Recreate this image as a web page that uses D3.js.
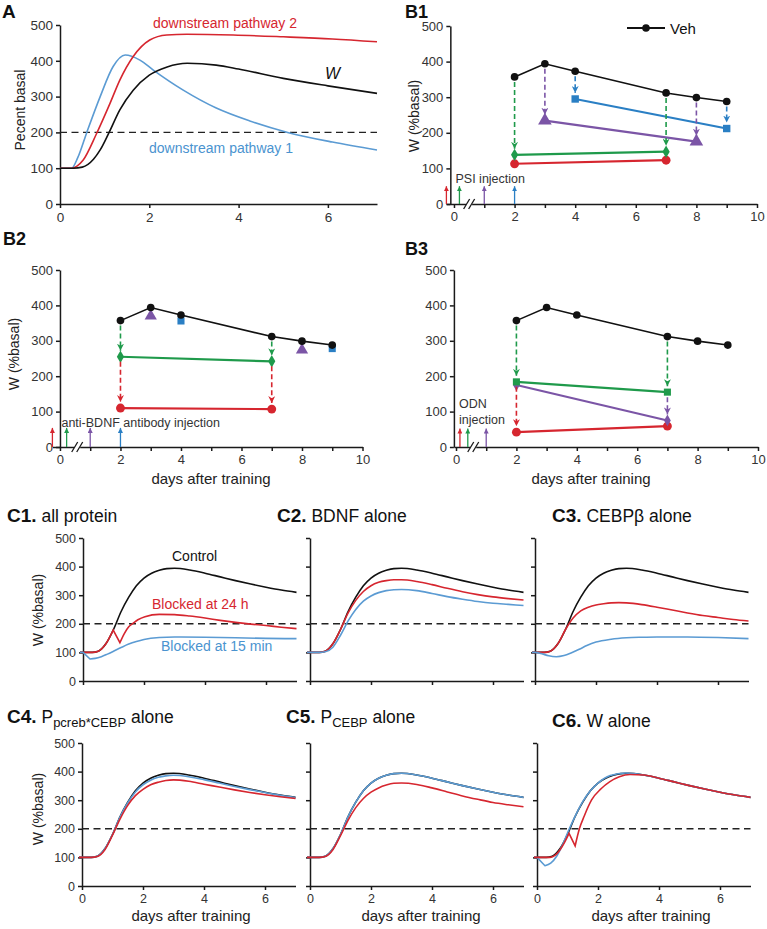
<!DOCTYPE html>
<html><head><meta charset="utf-8">
<script src="https://cdn.jsdelivr.net/npm/d3@7"></script>
<style>body{margin:0;background:#fff} svg{font-family:"Liberation Sans",Arial,sans-serif}</style>
</head><body><svg id="c" width="767" height="929"></svg>
<script>
// ---------------- DATA ----------------
// Panel A
const aWx = [0,0.3,0.5,0.75,0.9,1.1,1.34,1.64,2.0,2.4,2.85,3.5,4.0,5.0,6.0,7.1];
const aW  = [100,100,103,125,151,200,263,318,360,383,393,388,377,351,330,309];
const aP2x = [0,0.26,0.38,0.52,0.82,1.12,1.34,1.64,2.01,2.39,2.84,3.88,5.0,6.1,7.1];
const aP2  = [100,100,106,123,197,281,346,412,458,472,474,472,467,461,453];
const aP1x = [0,0.26,0.4,0.6,0.9,1.19,1.46,1.79,2.09,2.76,3.5,4.25,5.1,6.1,7.1];
const aP1  = [100,100,130,200,300,384,416,402,374,318,268,232,200,173,151];

// Panels B (days after training, W %basal)
const vehDays = [2,3,4,7,8,9];
const vehW    = [357,394,373,312,299,288];
const b1SqDays = [4,9], b1Sq = [295,212];
const b1TriDays = [3,8], b1Tri = [234,175];
const b1DiaDays = [2,7], b1Dia = [138,147];
const b1CirDays = [2,7], b1Cir = [113,123];
const b2TriDays = [3,8], b2Tri = [370,274];
const b2SqDays = [4,9], b2Sq = [356,278];
const b2DiaDays = [2,7], b2Dia = [255,242];
const b2CirDays = [2,7], b2Cir = [110,107];
const b3SqDays = [2,7], b3Sq = [184,155];
const b3DiaDays = [2,7], b3Dia = [175,75];
const b3CirDays = [2,7], b3Cir = [42,59];
const b1Inject = [-0.25,0.18,1,2];
const b2Inject = [-0.25,0.22,1,2];
const b3Inject = [0.13,0.39,1];

// Panels C
const ctlX = [-0.1,0,0.3,0.5,0.75,1.0,1.25,1.5,1.75,2.0,2.25,2.5,2.75,3.0,3.5,4.0,4.5,5.0,5.5,6.0,6.5,7.0];
const ctlW = [100,100,100,104,130,180,243,293,333,360,377,387,393,394,388,377,364,351,339,328,318,310];
const c1RedX = [-0.1,0,0.3,0.5,0.75,0.99,1.21,1.35,1.5,1.62,1.8,2.03,2.5,3.0,3.5,4.0,4.5,5.0,5.5,6.0,6.5,7.0];
const c1Red  = [100,100,100,104,130,178,134,165,190,200,214,225,233,232,227,220,212,205,199,194,188,183];
const c1BlueX = [-0.1,0,0.23,0.4,0.6,0.8,1.0,1.25,1.5,1.75,2.0,2.5,3.0,4.0,5.0,6.0,7.0];
const c1Blue  = [100,100,77,79,85,94,104,117,129,138,145,152,154,153,151,149,148];
const c2Red  = [100,100,100,104,130,180,238,282,313,333,345,351,354,354,348,337,324,312,302,294,288,283];
const c2Blue = [100,100,100,102,118,160,210,250,279,297,309,316,319,320,316,306,295,286,278,272,268,264];
const c3Red  = [100,100,100,104,130,180,220,245,258,266,270,273,274,273,267,258,248,238,229,222,215,210];
const c3BlueX = [-0.1,0,0.2,0.45,0.7,0.95,1.2,1.45,1.7,2.0,2.5,3.0,3.5,4.0,5.0,6.0,7.0];
const c3Blue  = [100,100,96,88,85,89,99,111,124,136,146,151,153,154,154,152,148];
const c4Blue = [100,100,100,104,130,180,242,291,329,354,370,380,385,387,382,372,360,348,337,327,317,309];
const c4Red  = [100,100,100,103,127,178,235,282,316,338,354,363,369,371,366,356,346,336,327,319,312,306];
const c5Red  = [100,100,100,103,127,176,230,274,306,328,343,353,359,360,355,343,329,315,303,292,284,277];
const c6BlueX = [-0.1,0,0.26,0.45,0.65,0.86,1.06,1.3,1.5,1.75,2.0,2.4,2.9,3.5,4.0,4.5,5.0,5.5,6.0,6.5,7.0];
const c6Blue  = [100,100,71,80,105,149,200,255,295,333,360,386,395,388,377,364,351,339,328,318,310];
const c6RedX = [-0.1,0,0.43,0.6,0.75,0.9,1.05,1.25,1.39,1.55,1.79,2.1,2.39,2.7,3.05,3.5,4.0,4.5,5.0,5.5,6.0,6.5,7.0];
const c6Red  = [100,100,100,108,126,152,184,140,200,245,301,340,365,382,390,388,377,364,351,339,328,318,310];

const yTicks = [0,100,200,300,400,500];

// ---------------- STYLE ----------------
const RED="#d6262f", BLUE="#5b9bd3", BLK="#111", GREEN="#1f9a4b", PURPLE="#7b55a6", BBLUE="#2a7fc4";
const FONT='"Liberation Sans",Arial,sans-serif';
const svg = d3.select("#c");
const defs = svg.append("defs");
function mkMarker(id, color, w, h, notch){
  defs.append("marker").attr("id",id).attr("viewBox","0 0 10 10").attr("refX",10).attr("refY",5)
    .attr("markerWidth",w).attr("markerHeight",h).attr("orient","auto").attr("markerUnits","userSpaceOnUse")
    .append("path").attr("d", notch ? "M0,0 L10,5 L0,10 L3,5 Z" : "M0,0 L10,5 L0,10 Z").attr("fill",color);
}
const colors = {red:RED, green:GREEN, purple:PURPLE, blue:BBLUE};
Object.entries(colors).forEach(([k,c])=>{ mkMarker("d-"+k,c,7,7,true); mkMarker("i-"+k,c,5,5,false); });

function styleAxis(g, fs){
  g.attr("font-family",FONT).attr("font-size",fs);
  g.selectAll("path,line").attr("stroke","#1a1a1a").attr("stroke-width",1.5);
  g.selectAll("text").attr("fill","#333");
}
function zip(xs,ys){ return xs.map((x,i)=>[x,ys[i]]); }
function axes(p, o){
  const gy = svg.append("g").attr("transform",`translate(${p.x(o.yAt||0)},0)`)
    .call(d3.axisLeft(p.y).tickValues(yTicks).tickSize(4).tickSizeOuter(0).tickPadding(3)
      .tickFormat(o.yLab ? d3.format("d") : ""));
  styleAxis(gy, o.fs);
  const gx = svg.append("g").attr("transform",`translate(0,${p.y(0)})`)
    .call(d3.axisBottom(p.x).tickValues(o.xTicks).tickSize(4).tickSizeOuter(0).tickPadding(4)
      .tickFormat(o.xLab ? (o.xFmt || d3.format("d")) : ""));
  styleAxis(gx, o.fs);
}
// smooth curve through the points; sharp corners at the x values listed in kinks
function curve(p, xs, ys, color, w, kinks){
  const pts = zip(xs,ys);
  const line = d3.line().x(d=>p.x(d[0])).y(d=>p.y(d[1])).curve(d3.curveMonotoneX);
  const pieces = [];
  let cur = [];
  pts.forEach(pt=>{
    cur.push(pt);
    if(kinks && kinks.includes(pt[0])){ pieces.push(cur); cur=[pt]; }
  });
  if(cur.length>1) pieces.push(cur);
  const d = pieces.map(pc=>line(pc)).map((s,i)=> i===0 ? s : s.replace(/^M[^LC]*/, "L"+s.match(/^M([^LC]*)/)[1])).join("");
  svg.append("path").attr("d",d).attr("fill","none")
    .attr("stroke",color).attr("stroke-width",w||1.6).attr("stroke-linejoin","miter");
}
function dashed200(p, x0, x1){
  svg.append("line").attr("x1",p.x(x0)).attr("x2",p.x(x1)).attr("y1",p.y(200)).attr("y2",p.y(200))
    .attr("stroke","#222").attr("stroke-width",1.4).attr("stroke-dasharray","7,4.5");
}
function text(x,y,str,o){
  o=o||{};
  const t = svg.append("text").attr("x",x).attr("y",y).attr("font-family",FONT)
    .attr("font-size",o.fs||14).attr("fill",o.fill||"#222").text(str);
  if(o.anchor) t.attr("text-anchor",o.anchor);
  if(o.bold) t.attr("font-weight","bold");
  if(o.italic) t.attr("font-style","italic");
  return t;
}
function ylabel(x,y,str,fs){
  svg.append("text").attr("transform",`translate(${x},${y}) rotate(-90)`).attr("text-anchor","middle")
    .attr("font-family",FONT).attr("font-size",fs||14).attr("fill","#222").text(str);
}
function title(x,y,parts){
  const t = svg.append("text").attr("x",x).attr("y",y).attr("font-family",FONT).attr("fill","#111");
  parts.forEach(pp=>{
    const s=t.append("tspan").attr("font-size",pp.fs).text(pp.t);
    if(pp.bold) s.attr("font-weight","bold");
    if(pp.dy) s.attr("dy",pp.dy);
  });
}

// ---------------- PANEL A ----------------
const pA = {x:d3.scaleLinear().domain([0,7.1]).range([60,377]), y:d3.scaleLinear().domain([0,500]).range([204,25])};
axes(pA,{yLab:true,xLab:true,xTicks:[0,2,4,6],fs:13.5});
dashed200(pA,0,7.1);
curve(pA,aP1x,aP1,BLUE);
curve(pA,aP2x,aP2,RED);
curve(pA,aWx,aW,BLK);
text(2,18,"A",{fs:19,bold:true,fill:"#111"});
ylabel(25,110,"Pecent basal",14);
text(153,28,"downstream pathway 2",{fs:14,fill:RED});
text(149,153,"downstream pathway 1",{fs:14,fill:"#4a93cf"});
text(325,79,"W",{fs:16,italic:true,fill:"#111"});

// ---------------- PANELS B ----------------
function sym(p, days, vals, type, size, color){
  svg.append("g").selectAll("path").data(zip(days,vals)).join("path")
    .attr("transform",d=>`translate(${p.x(d[0])},${p.y(d[1])})`)
    .attr("d",d3.symbol().type(type).size(size)).attr("fill",color);
}
function segs(p, days, vals, color, w){
  const line = d3.line().x(d=>p.x(d[0])).y(d=>p.y(d[1]));
  svg.append("path").datum(zip(days,vals)).attr("d",line).attr("fill","none")
    .attr("stroke",color).attr("stroke-width",w||2.2);
}
function darrow(p, day, from, to, cname){
  svg.append("line").attr("x1",p.x(day)).attr("x2",p.x(day)).attr("y1",p.y(from)+5).attr("y2",p.y(to)-6)
    .attr("stroke",colors[cname]).attr("stroke-width",1.6).attr("stroke-dasharray","5,3")
    .attr("marker-end",`url(#d-${cname})`);
}
function inject(p, xs, names, top){
  xs.forEach((x,i)=>{
    svg.append("line").attr("x1",p.x(x)).attr("x2",p.x(x)).attr("y1",p.y(0)).attr("y2",p.y(top))
      .attr("stroke",colors[names[i]]).attr("stroke-width",1.3).attr("marker-end",`url(#i-${names[i]})`);
  });
}
function brk(p, x){
  const cx=p.x(x), cy=p.y(0);
  svg.append("rect").attr("x",cx-3).attr("y",cy-2).attr("width",6).attr("height",4).attr("fill","#fff");
  [-2.5,2.5].forEach(o=>svg.append("line").attr("x1",cx+o-3).attr("y1",cy+5).attr("x2",cx+o+3).attr("y2",cy-5)
    .attr("stroke","#1a1a1a").attr("stroke-width",1.3));
}
function veh(p){
  segs(p, vehDays, vehW, BLK, 1.6);
  sym(p, vehDays, vehW, d3.symbolCircle, 46, BLK);
}
const bXT = d3.range(0,11);
const bFmt = d=> d%2===0 ? d : "";

// B1
const pB1 = {x:d3.scaleLinear().domain([-0.25,10]).range([446.4,757]), y:d3.scaleLinear().domain([0,500]).range([204,26])};
axes(pB1,{yLab:true,xLab:true,xTicks:bXT,xFmt:bFmt,fs:13,yAt:-0.12});
brk(pB1,0.5);
inject(pB1,b1Inject,["red","green","purple","blue"],50);
text(pB1.x(0.05),183,"PSI injection",{fs:12.5,fill:"#333"});
segs(pB1,b1CirDays,b1Cir,RED); sym(pB1,b1CirDays,b1Cir,d3.symbolCircle,62,RED);
segs(pB1,b1DiaDays,b1Dia,GREEN); sym(pB1,b1DiaDays,b1Dia,d3.symbolDiamond,45,GREEN);
segs(pB1,b1TriDays,b1Tri,PURPLE); sym(pB1,b1TriDays,b1Tri,d3.symbolTriangle,80,PURPLE);
segs(pB1,b1SqDays,b1Sq,BBLUE); sym(pB1,b1SqDays,b1Sq,d3.symbolSquare,55,BBLUE);
veh(pB1);
b1DiaDays.forEach((d,i)=>darrow(pB1,d,vehW[vehDays.indexOf(d)],b1Dia[i],"green"));
b1TriDays.forEach((d,i)=>darrow(pB1,d,vehW[vehDays.indexOf(d)],b1Tri[i],"purple"));
b1SqDays.forEach((d,i)=>darrow(pB1,d,vehW[vehDays.indexOf(d)],b1Sq[i],"blue"));
text(405,18,"B1",{fs:18,bold:true,fill:"#111"});
ylabel(419,116,"W (%basal)",14);
// legend
svg.append("line").attr("x1",627).attr("x2",665).attr("y1",28).attr("y2",28).attr("stroke",BLK).attr("stroke-width",1.8);
svg.append("circle").attr("cx",646).attr("cy",28).attr("r",3.8).attr("fill",BLK);
text(670,34,"Veh",{fs:15,fill:"#111"});

// B2
const pB2 = {x:d3.scaleLinear().domain([-0.25,10]).range([52.4,362.5]), y:d3.scaleLinear().domain([0,500]).range([447,270])};
axes(pB2,{yLab:true,xLab:true,xTicks:bXT,xFmt:bFmt,fs:13});
brk(pB2,0.57);
inject(pB2,b2Inject,["red","green","purple","blue"],54);
text(pB2.x(0.05),427,"anti-BDNF antibody injection",{fs:12.5,fill:"#333"});
segs(pB2,b2CirDays,b2Cir,RED); sym(pB2,b2CirDays,b2Cir,d3.symbolCircle,62,RED);
segs(pB2,b2DiaDays,b2Dia,GREEN); sym(pB2,b2DiaDays,b2Dia,d3.symbolDiamond,45,GREEN);
sym(pB2,b2TriDays,b2Tri,d3.symbolTriangle,65,PURPLE);
sym(pB2,b2SqDays,b2Sq,d3.symbolSquare,50,BBLUE);
veh(pB2);
b2DiaDays.forEach((d,i)=>darrow(pB2,d,vehW[vehDays.indexOf(d)],b2Dia[i],"green"));
b2CirDays.forEach((d,i)=>darrow(pB2,d,b2Dia[i],b2Cir[i],"red"));
text(3,245,"B2",{fs:18,bold:true,fill:"#111"});
ylabel(19,354,"W (%basal)",14);
text(211,484,"days after training",{fs:15,anchor:"middle",fill:"#222"});

// B3
const pB3 = {x:d3.scaleLinear().domain([-0.07,10]).range([453.9,758]), y:d3.scaleLinear().domain([0,500]).range([447,270])};
axes(pB3,{yLab:true,xLab:true,xTicks:bXT,xFmt:bFmt,fs:13,yAt:-0.07});
brk(pB3,0.57);
inject(pB3,b3Inject,["red","green","purple"],52);
text(pB3.x(0.1),408,"ODN",{fs:12.5,fill:"#333"});
text(pB3.x(0.1),424,"injection",{fs:12.5,fill:"#333"});
segs(pB3,b3CirDays,b3Cir,RED); sym(pB3,b3CirDays,b3Cir,d3.symbolCircle,62,RED);
segs(pB3,b3DiaDays,b3Dia,PURPLE); sym(pB3,b3DiaDays,b3Dia,d3.symbolDiamond,40,PURPLE);
segs(pB3,b3SqDays,b3Sq,GREEN); sym(pB3,b3SqDays,b3Sq,d3.symbolSquare,50,GREEN);
veh(pB3);
b3SqDays.forEach((d,i)=>darrow(pB3,d,vehW[vehDays.indexOf(d)],b3Sq[i],"green"));
darrow(pB3,b3CirDays[0],b3Sq[0],b3Cir[0],"red");
darrow(pB3,b3DiaDays[1],b3Sq[1],b3Dia[1],"purple");
text(405,255,"B3",{fs:18,bold:true,fill:"#111"});
text(591,484,"days after training",{fs:15,anchor:"middle",fill:"#222"});

// ---------------- PANELS C ----------------
function cPanel(xl, yb, yt, ylab, xlab){
  const p = {x:d3.scaleLinear().domain([0,7]).range([xl, xl+213.5]), y:d3.scaleLinear().domain([0,500]).range([yb,yt])};
  axes(p,{yLab:ylab,xLab:xlab,xTicks:[0,2,4,6],fs:12.5});
  dashed200(p,0,7);
  return p;
}
const pC1 = cPanel(83,681,538,true,false);
curve(pC1,ctlX,ctlW,BLK); curve(pC1,c1RedX,c1Red,RED,1.6,[0.99,1.21]); curve(pC1,c1BlueX,c1Blue,BLUE,1.6,[0,0.23]);
title(7,522,[{t:"C1.",fs:19,bold:true},{t:" all protein",fs:17.5}]);
ylabel(43,610,"W (%basal)",14);
text(172,561,"Control",{fs:14,fill:"#111"});
text(152,609,"Blocked at 24 h",{fs:14,fill:RED});
text(161,651,"Blocked at 15 min",{fs:14,fill:"#4a93cf"});

const pC2 = cPanel(310,681,538,false,false);
curve(pC2,ctlX,ctlW,BLK); curve(pC2,ctlX,c2Red,RED); curve(pC2,ctlX,c2Blue,BLUE);
title(277,522,[{t:"C2.",fs:19,bold:true},{t:" BDNF alone",fs:17.5}]);

const pC3 = cPanel(535,681,538,false,false);
curve(pC3,ctlX,ctlW,BLK); curve(pC3,ctlX,c3Red,RED); curve(pC3,c3BlueX,c3Blue,BLUE);
title(552,522,[{t:"C3.",fs:19,bold:true},{t:" CEBPβ alone",fs:17.5}]);

const pC4 = cPanel(82,886,743,true,true);
curve(pC4,ctlX,ctlW,BLK); curve(pC4,ctlX,c4Blue,BLUE); curve(pC4,ctlX,c4Red,RED);
title(7,723,[{t:"C4.",fs:19,bold:true},{t:" P",fs:17.5},{t:"pcreb*CEBP",fs:13,dy:4},{t:" alone",fs:17.5,dy:-4}]);
ylabel(43,809,"W (%basal)",14);
text(191,921,"days after training",{fs:15,anchor:"middle",fill:"#222"});

const pC5 = cPanel(310,886,743,false,true);
curve(pC5,ctlX,ctlW,BLK); curve(pC5,ctlX,ctlW,BLUE); curve(pC5,ctlX,c5Red,RED);
title(286,723,[{t:"C5.",fs:19,bold:true},{t:" P",fs:17.5},{t:"CEBP",fs:13,dy:4},{t:" alone",fs:17.5,dy:-4}]);
text(421,921,"days after training",{fs:15,anchor:"middle",fill:"#222"});

const pC6 = cPanel(537,886,743,false,true);
curve(pC6,ctlX,ctlW,BLK); curve(pC6,c6BlueX,c6Blue,BLUE,1.6,[0,0.26]); curve(pC6,c6RedX,c6Red,RED,1.6,[1.05,1.25]);
title(552,727,[{t:"C6.",fs:19,bold:true},{t:" W alone",fs:17.5}]);
text(651,921,"days after training",{fs:15,anchor:"middle",fill:"#222"});
</script></body></html>
